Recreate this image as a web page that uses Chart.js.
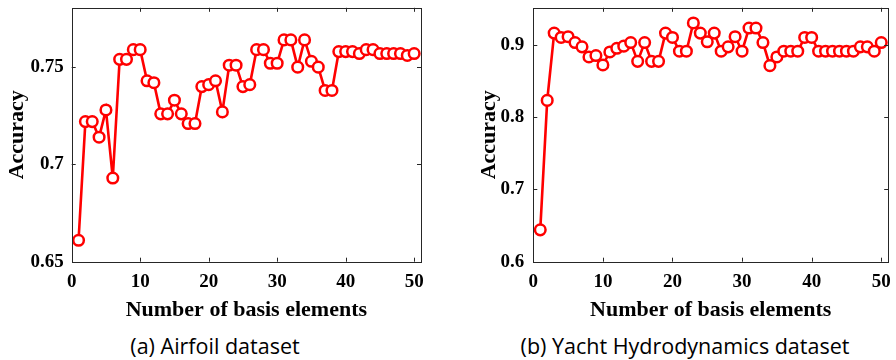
<!DOCTYPE html>
<html>
<head>
<meta charset="utf-8">
<script src="https://cdn.jsdelivr.net/npm/chart.js@4.4.1/dist/chart.umd.min.js"></script>
<style>
  body { margin: 0; background: #fff; }
  #wrap { position: relative; width: 896px; height: 360px; overflow: hidden; }
  .panel { position: absolute; top: 0; width: 448px; height: 330px; }
  .caption { position: absolute; top: 331px; font: 21.5px "Open Sans", sans-serif; color: #000; white-space: nowrap; transform: translateX(-50%); }
</style>
</head>
<body>
<div id="wrap">
  <div class="panel" style="left:0"><canvas id="chartA" width="448" height="330"></canvas></div>
  <div class="panel" style="left:448px"><canvas id="chartB" width="448" height="330"></canvas></div>
  <div class="caption" style="left:215px">(a) Airfoil dataset</div>
  <div class="caption" style="left:685px">(b) Yacht Hydrodynamics dataset</div>
</div>
<script>
// Nombre d'éléments de base (axe x)
const basisCounts = [1, 2, 3, 4, 5, 6, 7, 8, 9, 10, 11, 12, 13, 14, 15, 16, 17, 18, 19, 20,
  21, 22, 23, 24, 25, 26, 27, 28, 29, 30, 31, 32, 33, 34, 35, 36, 37, 38, 39, 40,
  41, 42, 43, 44, 45, 46, 47, 48, 49, 50];

// Précision - Airfoil
const airfoilAcc = [0.661, 0.722, 0.722, 0.714, 0.728, 0.693, 0.754, 0.754, 0.759, 0.759,
  0.743, 0.742, 0.726, 0.726, 0.733, 0.726, 0.721, 0.721, 0.740, 0.741,
  0.743, 0.727, 0.751, 0.751, 0.740, 0.741, 0.759, 0.759, 0.752, 0.752,
  0.764, 0.764, 0.750, 0.764, 0.753, 0.750, 0.738, 0.738, 0.758, 0.758,
  0.758, 0.757, 0.759, 0.759, 0.757, 0.757, 0.757, 0.757, 0.756, 0.757];

// Précision - Yacht Hydrodynamics
const yachtAcc = [0.644, 0.823, 0.916, 0.910, 0.911, 0.903, 0.897, 0.883, 0.885, 0.872,
  0.890, 0.895, 0.898, 0.903, 0.877, 0.903, 0.877, 0.877, 0.916, 0.910,
  0.891, 0.891, 0.930, 0.916, 0.904, 0.916, 0.891, 0.897, 0.911, 0.891,
  0.923, 0.923, 0.903, 0.871, 0.883, 0.891, 0.891, 0.891, 0.910, 0.910,
  0.891, 0.891, 0.891, 0.891, 0.891, 0.891, 0.897, 0.897, 0.891, 0.903];

const xTicks = [0, 10, 20, 30, 40, 50];
const yTicksA = [0.65, 0.7, 0.75];
const yTicksB = [0.6, 0.7, 0.8, 0.9];

const axisColor = '#262626';
const tickFont = { family: '"Liberation Serif", "Times New Roman", serif', size: 19, weight: 'bold' };
const titleFont = { family: '"Liberation Serif", "Times New Roman", serif', size: 22, weight: 'bold' };

// cadre + petites graduations vers l'intérieur (style MATLAB)
const boxPlugin = {
  id: 'boxTicks',
  afterDatasetsDraw(chart) {
    const { ctx, chartArea: a, scales } = chart;
    const len = 4;
    ctx.save();
    ctx.strokeStyle = axisColor;
    ctx.lineWidth = 1;
    ctx.beginPath();
    scales.x.ticks.forEach(t => {
      const px = Math.round(scales.x.getPixelForValue(t.value)) + 0.5;
      if (px <= a.left + 1 || px >= a.right - 1) return;
      ctx.moveTo(px, a.bottom); ctx.lineTo(px, a.bottom - len);
      ctx.moveTo(px, a.top); ctx.lineTo(px, a.top + len);
    });
    scales.y.ticks.forEach(t => {
      const py = Math.round(scales.y.getPixelForValue(t.value)) + 0.5;
      if (py <= a.top + 1 || py >= a.bottom - 1) return;
      ctx.moveTo(a.left, py); ctx.lineTo(a.left + len, py);
      ctx.moveTo(a.right, py); ctx.lineTo(a.right - len, py);
    });
    ctx.stroke();
    ctx.strokeRect(Math.round(a.left) + 0.5, Math.round(a.top) + 0.5,
      Math.round(a.right - a.left), Math.round(a.bottom - a.top));
    ctx.restore();
  }
};

function makeChart(id, values, yMin, yMax, yTicks, yWidth, padRight, yTitlePad, yTickPad) {
  return new Chart(document.getElementById(id), {
    type: 'line',
    data: {
      datasets: [{
        data: basisCounts.map((x, i) => ({ x: x, y: values[i] })),
        borderColor: '#ff0000',
        borderWidth: 2.6,
        pointRadius: 5.3,
        pointBorderWidth: 2.5,
        pointBackgroundColor: '#ffffff',
        pointBorderColor: '#ff0000',
        tension: 0,
        clip: false
      }]
    },
    options: {
      responsive: false,
      animation: false,
      layout: { padding: { left: 0, right: padRight, top: 6, bottom: 0 } },
      plugins: { legend: { display: false }, tooltip: { enabled: false } },
      scales: {
        x: {
          type: 'linear', min: 0, max: 51,
          grid: { display: false, drawTicks: false },
          border: { display: false },
          afterBuildTicks: s => { s.ticks = xTicks.map(v => ({ value: v })); },
          afterFit: s => { s.height = 68.3; s.paddingLeft = 0; s.paddingRight = 0; },
          ticks: { font: tickFont, color: '#000', padding: 9, maxRotation: 0, autoSkip: false,
                   callback: v => String(v) },
          title: { display: true, text: 'Number of basis elements', font: titleFont, color: '#000',
                   padding: { top: 0, bottom: 6 } }
        },
        y: {
          type: 'linear', min: yMin, max: yMax,
          grid: { display: false, drawTicks: false },
          border: { display: false },
          afterBuildTicks: s => { s.ticks = yTicks.map(v => ({ value: v })); },
          afterFit: s => { s.width = yWidth; s.paddingTop = 0; s.paddingBottom = 0; },
          ticks: { font: tickFont, color: '#000', padding: yTickPad, callback: v => String(v) },
          title: { display: true, text: 'Accuracy', font: titleFont, color: '#000',
                   padding: { top: yTitlePad, bottom: 0 } }
        }
      }
    },
    plugins: [boxPlugin]
  });
}

makeChart('chartA', airfoilAcc, 0.65, 0.7805, yTicksA, 71.7, 27, 4, 8);
makeChart('chartB', yachtAcc, 0.6, 0.951, yTicksB, 85.3, 3.3, 28.5, 9);
</script>
</body>
</html>
